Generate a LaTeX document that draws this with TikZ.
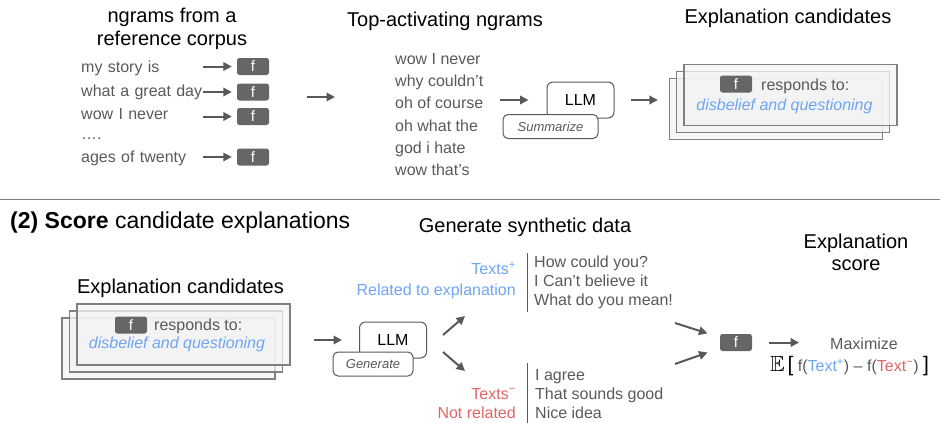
\documentclass[tikz,border=0pt]{standalone}
\usepackage{fontspec}
\setmainfont{Liberation Sans}
\usepackage{amssymb}
\usetikzlibrary{arrows.meta}
\definecolor{txtgray}{RGB}{89,89,89}
\definecolor{boxgray}{RGB}{102,102,102}
\definecolor{edgegray}{RGB}{128,128,128}
\definecolor{cardfill}{RGB}{243,243,243}
\definecolor{relblue}{RGB}{110,165,245}
\definecolor{notred}{RGB}{224,102,102}

\begin{document}
\begin{tikzpicture}[x=1pt, y=-1pt,
    title/.style={font=\fontsize{20}{23}\selectfont, align=center, inner sep=0pt},
    gram/.style={font=\fontsize{16}{19}\selectfont, text=txtgray, inner sep=0pt},
    fbox/.style={fill=boxgray, rounded corners=2.5pt, minimum width=32pt, minimum height=17pt, inner sep=0pt, text=white, font=\fontsize{15}{15}\selectfont},
    llm/.style={draw=txtgray, fill=white, rounded corners=6pt, minimum width=67pt, minimum height=36pt, line width=1pt, font=\fontsize{16}{16}\selectfont},
    task/.style={draw=txtgray, fill=white, rounded corners=5pt, minimum height=24pt, line width=1pt, text=txtgray, font=\fontsize{13}{13}\selectfont\itshape},
    card/.style={draw=edgegray, fill=cardfill, fill opacity=0.75, line width=1.2pt, minimum width=213pt, minimum height=61pt, inner sep=0pt},
    arr/.style={-{Triangle[length=8.5pt,width=8.5pt]}, draw=txtgray, line width=2pt},
    bar/.style={draw=txtgray, line width=1pt}]
    \useasboundingbox (0,0) rectangle (940,423);

    \node[title] (t1) at (172,28.5) {ngrams from a\\reference corpus};
    \node[title] (t2) at (445,21) {Top-activating ngrams};
    \node[title] (t3) at (788,18) {Explanation candidates};

    \node[gram, anchor=west, text width=122pt, align=left] (g1) at (81,68) {my story is};
    \node[gram, anchor=west, text width=122pt, align=left] (g2) at (81,92) {what a great day};
    \node[gram, anchor=west, text width=122pt, align=left] (g3) at (81,114) {wow I never};
    \node[gram, anchor=west, text width=122pt, align=left] (g4) at (81,139) {….};
    \node[gram, anchor=west, text width=122pt, align=left] (g5) at (81,158) {ages of twenty};

    \node[fbox] (f1) at (253,66.5) {f};
    \node[fbox] (f2) at (253,92) {f};
    \node[fbox] (f3) at (253,116.5) {f};
    \node[fbox] (f4) at (253,157) {f};

    \draw[arr, shorten >=5pt] (g1.east |- f1) -- (f1);
    \draw[arr, shorten >=5pt] (g2.east |- f2) -- (f2);
    \draw[arr, shorten >=5pt] (g3.east |- f3) -- (f3);
    \draw[arr, shorten >=5pt] (g5.east |- f4) -- (f4);

    \coordinate (m1) at (307,97);
    \coordinate (m2) at (335,97);
    \draw[arr] (m1) -- (m2);

    \node[gram, anchor=west, align=left, font=\fontsize{16}{22.2}\selectfont] (ngr) at (395,114.5)
        {wow I never\\why couldn’t\\oh of course\\oh what the\\god i hate\\wow that’s};

    \node[llm] (llm1) at (580.5,100) {LLM};
    \node[task, minimum width=95pt] (sum) at (550.5,126.5) {Summarize};
    \draw[arr, shorten <=17pt, shorten >=18pt] (ngr.east |- llm1) -- (llm1);

    \node[card] (c13) at (776,109) {};
    \node[card] (c12) at (783,102) {};
    \node[card] (c11) at (790.5,95) {};
    \node[fbox] (cf1) at (736,84) {f};
    \node[gram, anchor=west] (r1) at (761,86) {responds to:};
    \node[gram, text=relblue, font=\fontsize{16}{19}\selectfont\itshape] (d1) at (784.5,106) {disbelief and questioning};
    \draw[arr, shorten <=16pt, shorten >=11pt] (llm1.east) -- (llm1.east -| c13.west);

    \draw[draw=edgegray, line width=1.2pt] (0,199.5) -- (940,199.5);

    \node[inner sep=0pt, anchor=west, font=\fontsize{23}{26}\selectfont] (h2) at (10,223) {\textbf{(2) Score} candidate explanations};
    \node[title] (t4) at (180.5,288) {Explanation candidates};
    \node[title] (t5) at (525,227) {Generate synthetic data};
    \node[title, font=\fontsize{20}{22}\selectfont] (t6) at (856,252) {Explanation\\score};

    \node[card] (c23) at (168.5,348.5) {};
    \node[card] (c22) at (176,341.5) {};
    \node[card] (c21) at (183.5,334.5) {};
    \node[fbox] (cf2) at (131,325) {f};
    \node[gram, anchor=west] (r2) at (154,326) {responds to:};
    \node[gram, text=relblue, font=\fontsize{16}{19}\selectfont\itshape] (d2) at (177,344) {disbelief and questioning};

    \node[llm] (llm2) at (393,340) {LLM};
    \node[task, minimum width=80pt] (gen) at (373,364) {Generate};
    \draw[arr, shorten <=23pt, shorten >=17pt] (c21.east |- llm2) -- (llm2);

    \coordinate (u1) at (443,335);
    \coordinate (u2) at (465,316);
    \coordinate (l1) at (443,352);
    \coordinate (l2) at (465,371);
    \draw[arr] (u1) -- (u2);
    \draw[arr] (l1) -- (l2);

    \node[gram, text=relblue, anchor=east, align=right, font=\fontsize{16}{21}\selectfont] (tp) at (516,280.5)
        {Texts\textsuperscript{+}\\Related to explanation};
    \node[gram, text=notred, anchor=east, align=right, font=\fontsize{16}{19.5}\selectfont] (tn) at (516,403.5)
        {Texts\textsuperscript{−}\\Not related};
    \node[gram, anchor=west, align=left] (pl) at (534,282) {How could you?\\I Can’t believe it\\What do you mean!};
    \node[gram, anchor=west, align=left] (nl) at (535,394) {I agree\\That sounds good\\Nice idea};
    \draw[bar] (527,253) -- (527,312);
    \draw[bar] (527,363) -- (527,423);

    \node[fbox] (fs) at (736,342.5) {f};
    \coordinate (p1) at (675,323);
    \coordinate (p2) at (675,364);
    \draw[arr, shorten >=13pt] (p1) -- (fs);
    \draw[arr, shorten >=13pt] (p2) -- (fs);

    \node[gram] (mx) at (864,344) {Maximize};
    \draw[arr, shorten <=17pt, shorten >=31pt] (fs.east) -- (fs.east -| mx.west);
    \node[gram, anchor=west] (ex) at (770,366)
        {{\fontsize{22}{22}\selectfont\color{black}$\mathbb{E}$}\,{\fontsize{21}{21}\selectfont\color{black}[}
        f(\textcolor{relblue}{Text\textsuperscript{+}}) – f(\textcolor{notred}{Text\textsuperscript{−}})
        {\fontsize{21}{21}\selectfont\color{black}]}};
\end{tikzpicture}
\end{document}
